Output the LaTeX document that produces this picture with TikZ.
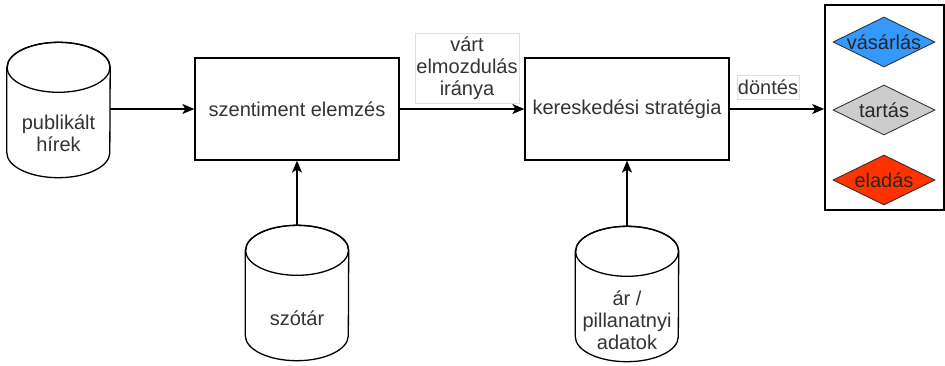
\documentclass[tikz,border=0pt]{standalone}
\usepackage{fontspec}
\setmainfont{Liberation Sans}
\usetikzlibrary{arrows.meta,shapes.geometric}

\definecolor{buyblue}{HTML}{3399FF}
\definecolor{holdgray}{HTML}{CCCCCC}
\definecolor{sellred}{HTML}{FF3300}
\definecolor{ink}{HTML}{333333}

% cylinder outline drawn around a named (invisible) node
\newcommand\drawcyl[1]{%
  \filldraw[fill=white, line width=1.3pt]
    ([yshift=-25pt]#1.north west) -- ([yshift=25pt]#1.south west)
    arc[start angle=180, end angle=360, x radius=51.5pt, y radius=25pt]
    -- ([yshift=-25pt]#1.north east)
    arc[start angle=0, end angle=180, x radius=51.5pt, y radius=25pt] -- cycle;
  \draw[line width=1.3pt] ([yshift=-25pt]#1.north)
    ellipse[x radius=51.5pt, y radius=25pt];
}

\begin{document}
\begin{tikzpicture}[x=1pt, y=1pt,
  every node/.style={font=\fontsize{20}{22}\selectfont, text=ink},
  block/.style={draw, line width=1.3pt, minimum width=204pt,
    minimum height=102pt, inner sep=0pt, fill=white},
  cylbox/.style={minimum width=103pt, minimum height=135pt, inner sep=0pt},
  cyltext/.style={align=center, inner sep=0pt},
  tag/.style={draw=black!13, fill=white, align=center, inner sep=0pt},
  choice/.style={diamond, draw=black!85, line width=0.8pt,
    minimum width=102pt, minimum height=50pt, inner sep=0pt},
  arr/.style={line width=1.3pt, -{Stealth[length=12pt, width=10pt, inset=3pt]}}
]
\useasboundingbox (0,0) rectangle (945,365);

% data sources
\node[cylbox] (news) at (58.5,255) {};
\node[cylbox] (dict) at (297,72) {};
\node[cylbox] (price) at (627,71) {};
\drawcyl{news}
\drawcyl{dict}
\drawcyl{price}
\node[cyltext] (newsT) at ([yshift=-23pt]news.center) {publikált\\hírek};
\node[cyltext] (dictT) at ([yshift=-25pt]dict.center) {szótár};
\node[cyltext] (priceT) at ([yshift=-26pt]price.center) {ár /\\pillanatnyi\\adatok};

% processing steps
\node[block] (sent) at (297,256) {szentiment elemzés};
\node[block] (strat) at (627,256) {kereskedési stratégia};

% decision panel
\node[draw, line width=1.6pt, minimum width=119pt, minimum height=205pt,
  inner sep=0pt] (out) at (884.5,257.5) {};
\node[choice, fill=buyblue, label={[text=black!85]center:vásárlás}] (buy) at (884,323) {};
\node[choice, fill=holdgray, label={[text=black!85]center:tartás}] (hold) at (884,255) {};
\node[choice, fill=sellred, label={[text=black!85]center:eladás}] (sell) at (884,185) {};

% connectors
\draw[arr] (news.east |- sent.west) -- (sent.west);
\draw[arr] (sent.east) -- (strat.west);
\draw[arr] (strat.east) -- (strat.east -| out.west);
\draw[arr] (dict.north) -- (sent.south);
\draw[arr] (price.north) -- (strat.south);

% edge labels
\node[tag, minimum width=104pt, minimum height=70pt] (dirL) at (467,297)
  {várt\\elmozdulás\\iránya};
\node[tag, minimum width=62pt, minimum height=24pt] (decL) at (768,278) {döntés};
\end{tikzpicture}
\end{document}
